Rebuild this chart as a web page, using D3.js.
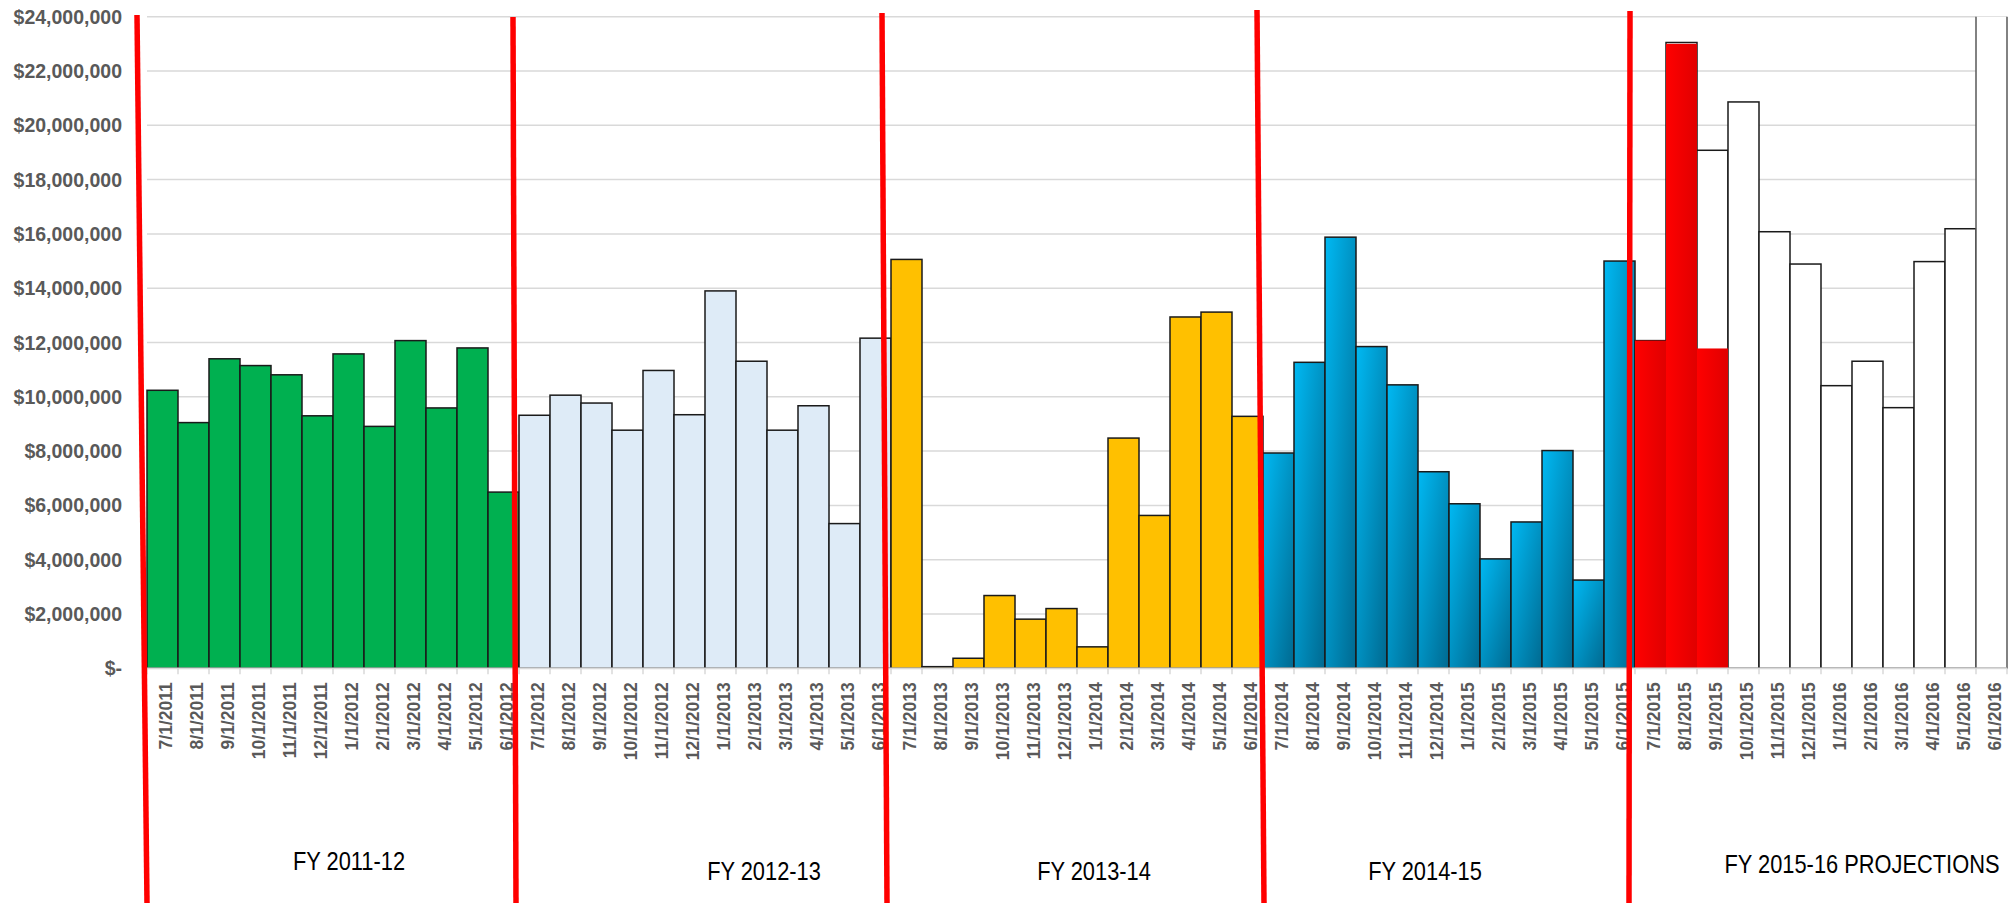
<!DOCTYPE html>
<html>
<head>
<meta charset="utf-8">
<script src="https://d3js.org/d3.v7.min.js"></script>
<style>
    body { margin: 0; background: #fff; }
    .ylab { font-family: "Liberation Sans", Arial, sans-serif; font-weight: bold; font-size: 19.5px; fill: #595959; }
    .xlab { font-family: "Liberation Sans", Arial, sans-serif; font-weight: bold; font-size: 17.5px; fill: #595959; }
    .fy { font-family: "Liberation Sans", Arial, sans-serif; font-size: 26px; fill: #000; }
</style>
</head>
<body>
<div id="chart-container"></div>
<script>
// monthly revenue, FY 2011-12 .. FY 2015-16
let months = [
    "7/1/2011", "8/1/2011", "9/1/2011", "10/1/2011", "11/1/2011", "12/1/2011",
    "1/1/2012", "2/1/2012", "3/1/2012", "4/1/2012", "5/1/2012", "6/1/2012",
    "7/1/2012", "8/1/2012", "9/1/2012", "10/1/2012", "11/1/2012", "12/1/2012",
    "1/1/2013", "2/1/2013", "3/1/2013", "4/1/2013", "5/1/2013", "6/1/2013",
    "7/1/2013", "8/1/2013", "9/1/2013", "10/1/2013", "11/1/2013", "12/1/2013",
    "1/1/2014", "2/1/2014", "3/1/2014", "4/1/2014", "5/1/2014", "6/1/2014",
    "7/1/2014", "8/1/2014", "9/1/2014", "10/1/2014", "11/1/2014", "12/1/2014",
    "1/1/2015", "2/1/2015", "3/1/2015", "4/1/2015", "5/1/2015", "6/1/2015",
    "7/1/2015", "8/1/2015", "9/1/2015", "10/1/2015", "11/1/2015", "12/1/2015",
    "1/1/2016", "2/1/2016", "3/1/2016", "4/1/2016", "5/1/2016", "6/1/2016"
];

// actuals ($), one per month up to 9/1/2015
let actual = [
    10240000, 9050000, 11400000, 11150000, 10810000, 9300000,
    11580000, 8910000, 12070000, 9590000, 11800000, 6490000,
    9320000, 10060000, 9770000, 8770000, 10970000, 9340000,
    13900000, 11310000, 8770000, 9670000, 5330000, 12160000,
    15060000, 60000, 370000, 2680000, 1810000, 2200000,
    790000, 8480000, 5630000, 12940000, 13120000, 9280000,
    7930000, 11270000, 15880000, 11850000, 10440000, 7240000,
    6060000, 4030000, 5390000, 8020000, 3250000, 15000000,
    12070000, 23000000, 11780000
];

// FY 2015-16 projections ($)
let projection = [
    12070000, 23050000, 19080000, 20860000, 16080000, 14890000,
    10410000, 11310000, 9600000, 14980000, 16190000, 26000000
];

let fyNames = ["FY 2011-12", "FY 2012-13", "FY 2013-14", "FY 2014-15", "FY 2015-16 PROJECTIONS"];

let yTicks = [0, 2000000, 4000000, 6000000, 8000000, 10000000, 12000000,
    14000000, 16000000, 18000000, 20000000, 22000000, 24000000];

// styling
let fyFill = ["#00B050", "#DEEBF7", "#FFC000", "url(#blueGrad)", "url(#redGrad)"];
let margin = {top: 16.7, right: 4, bottom: 234.7, left: 147};
let width = 2011, height = 903;
let plotH = height - margin.top - margin.bottom;

let svg = d3.select('#chart-container').append('svg')
    .attr('width', width)
    .attr('height', height);

let defs = svg.append('defs');
let blue = defs.append('linearGradient').attr('id', 'blueGrad')
    .attr('x1', 0).attr('y1', 0).attr('x2', 1).attr('y2', 1);
blue.append('stop').attr('offset', '0%').attr('stop-color', '#00B9F3');
blue.append('stop').attr('offset', '100%').attr('stop-color', '#006990');
let red = defs.append('linearGradient').attr('id', 'redGrad')
    .attr('x1', 0).attr('y1', 0).attr('x2', 1).attr('y2', 0);
red.append('stop').attr('offset', '0%').attr('stop-color', '#FF0000');
red.append('stop').attr('offset', '100%').attr('stop-color', '#E00000');

defs.append('clipPath').attr('id', 'plotClip')
    .append('rect')
    .attr('x', margin.left - 5).attr('y', margin.top)
    .attr('width', width).attr('height', plotH + 5);

// scales
let x = d3.scaleBand()
    .domain(months)
    .range([margin.left, width - margin.right])
    .padding(0);

let y = d3.scaleLinear()
    .domain([0, 24000000])
    .range([margin.top + plotH, margin.top]);

// gridlines
svg.append('g').selectAll('line')
    .data(yTicks.filter(function(d) { return d > 0; }))
    .enter().append('line')
    .attr('x1', margin.left).attr('x2', width - margin.right)
    .attr('y1', function(d) { return y(d); })
    .attr('y2', function(d) { return y(d); })
    .attr('stroke', '#D9D9D9')
    .attr('stroke-width', 1.5);

// y labels
svg.append('g').selectAll('text')
    .data(yTicks)
    .enter().append('text')
    .attr('class', 'ylab')
    .attr('x', margin.left - 25)
    .attr('y', function(d) { return y(d); })
    .attr('dy', '0.36em')
    .attr('text-anchor', 'end')
    .text(function(d) { return d === 0 ? '$-' : '$' + d3.format(',')(d); });

let bars = svg.append('g').attr('clip-path', 'url(#plotClip)');

// actual bars for completed years
bars.selectAll('rect.actual')
    .data(actual.slice(0, 48))
    .enter().append('rect')
    .attr('class', 'actual')
    .attr('x', function(d, i) { return x(months[i]); })
    .attr('width', x.bandwidth())
    .attr('y', function(d) { return y(d); })
    .attr('height', function(d) { return y(0) - y(d); })
    .attr('fill', function(d, i) { return fyFill[Math.floor(i / 12)]; })
    .attr('stroke', '#1a1a1a')
    .attr('stroke-width', 1.5);

// projections (white, outlined)
bars.selectAll('rect.proj')
    .data(projection)
    .enter().append('rect')
    .attr('class', 'proj')
    .attr('x', function(d, i) { return x(months[48 + i]); })
    .attr('width', x.bandwidth())
    .attr('y', function(d) { return y(d); })
    .attr('height', function(d) { return y(0) - y(d); })
    .attr('fill', '#fff')
    .attr('stroke', function(d, i) { return i === 11 ? '#595959' : '#1a1a1a'; })
    .attr('stroke-width', 1.5);

// FY 2015-16 actuals so far
bars.selectAll('rect.cur')
    .data(actual.slice(48))
    .enter().append('rect')
    .attr('class', 'cur')
    .attr('x', function(d, i) { return x(months[48 + i]); })
    .attr('width', x.bandwidth())
    .attr('y', function(d) { return y(d); })
    .attr('height', function(d) { return y(0) - y(d); })
    .attr('fill', fyFill[4]);

// x axis line and ticks
let y0 = y(0);
svg.append('line')
    .attr('x1', margin.left).attr('x2', width - margin.right)
    .attr('y1', y0).attr('y2', y0)
    .attr('stroke', '#D9D9D9').attr('stroke-width', 1.5);

svg.append('g').selectAll('line')
    .data(months.concat(['end']))
    .enter().append('line')
    .attr('x1', function(d, i) { return margin.left + i * x.bandwidth(); })
    .attr('x2', function(d, i) { return margin.left + i * x.bandwidth(); })
    .attr('y1', y0).attr('y2', y0 + 6)
    .attr('stroke', '#D9D9D9').attr('stroke-width', 1.5);

svg.append('g').selectAll('text')
    .data(months)
    .enter().append('text')
    .attr('class', 'xlab')
    .attr('text-anchor', 'end')
    .attr('transform', function(d) {
        return 'translate(' + (x(d) + x.bandwidth() / 2) + ',' + (y0 + 14) + ') rotate(-90)';
    })
    .attr('dy', '0.52em')
    .text(function(d) { return d; });

// FY labels under each year (narrowed to look like the original's condensed face)
let fyDx = [16, 59, 17, -24, 41];
let fyY = [870, 880, 880, 880, 873];
svg.append('g').selectAll('text')
    .data(fyNames)
    .enter().append('text')
    .attr('class', 'fy')
    .attr('text-anchor', 'middle')
    .attr('transform', function(d, i) {
        let cx = x(months[i * 12]) + 6 * x.bandwidth() + fyDx[i];
        return 'translate(' + cx + ',' + fyY[i] + ') scale(0.84,1)';
    })
    .text(function(d) { return d; });

// hand-drawn red separators at the start of each FY
let topDx = [-10, -6, -9, -6, -5];
let botDx = [0, -3, -4, 1, -6];
let topY = [15, 17, 13, 10, 11];
svg.append('g').selectAll('line')
    .data(fyNames)
    .enter().append('line')
    .attr('x1', function(d, i) { return x(months[i * 12]) + topDx[i]; })
    .attr('x2', function(d, i) { return x(months[i * 12]) + botDx[i]; })
    .attr('y1', function(d, i) { return topY[i]; })
    .attr('y2', height)
    .attr('stroke', '#FF0000')
    .attr('stroke-width', 5.5);
</script>
</body>
</html>
